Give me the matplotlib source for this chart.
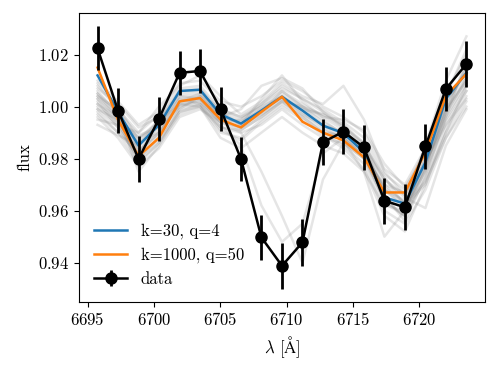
import numpy as np
import matplotlib
matplotlib.use("Agg")
import matplotlib.pyplot as plt

plt.rcParams["font.family"] = "serif"
plt.rcParams["font.serif"] = ["cmr10"]
plt.rcParams["mathtext.fontset"] = "cm"
plt.rcParams["axes.formatter.use_mathtext"] = True
plt.rcParams["font.size"] = 12

# wavelength grid of the observed spectrum
wave = [6695.75, 6697.29, 6698.84, 6700.38, 6701.93, 6703.47, 6705.02,
        6706.56, 6708.10, 6709.65, 6711.19, 6712.74, 6714.28, 6715.83,
        6717.37, 6718.91, 6720.46, 6722.00, 6723.55]

# observed flux and errors
flux = [1.0224, 0.9985, 0.9799, 0.9953, 1.0130, 1.0137, 0.9991, 0.9799,
        0.9497, 0.9388, 0.9478, 0.9863, 0.9904, 0.9843, 0.9638, 0.9613,
        0.9847, 1.0068, 1.0164]
flux_err = [0.0085, 0.0085, 0.0088, 0.0085, 0.0085, 0.0085, 0.0085, 0.0085,
            0.0088, 0.0089, 0.0089, 0.0088, 0.0086, 0.0086, 0.0088, 0.0088,
            0.0087, 0.0086, 0.0087]

# best-fit models
model_k30 = [1.012, 0.998, 0.985, 0.993, 1.006, 1.0065, 0.997, 0.9935,
             0.9985, 1.0038, 0.9985, 0.9927, 0.9898, 0.9824, 0.9651, 0.9627,
             0.9786, 1.003, 1.013]
model_k1000 = [1.015, 0.995, 0.981, 0.988, 1.002, 1.0033, 0.995, 0.992,
               0.998, 1.0038, 0.9942, 0.990, 0.987, 0.9805, 0.967, 0.967,
               0.9824, 1.0042, 1.0126]

# posterior draws (grey)
draws = [
    [1.005, 0.995, 0.988, 0.992, 1.003, 1.004, 0.996, 0.994, 0.999, 1.004, 0.997, 0.993, 0.990, 0.983, 0.968, 0.962, 0.975, 0.995, 1.008],
    [1.000, 0.993, 0.982, 0.990, 1.000, 1.002, 0.994, 0.992, 0.998, 1.006, 1.000, 0.995, 0.989, 0.980, 0.963, 0.958, 0.972, 0.990, 1.004],
    [1.008, 0.999, 0.990, 0.997, 1.007, 1.008, 0.999, 0.996, 1.001, 1.008, 1.003, 0.998, 0.993, 0.986, 0.972, 0.966, 0.980, 1.000, 1.015],
    [0.997, 0.990, 0.978, 0.986, 0.997, 1.000, 0.990, 0.988, 0.995, 1.001, 0.996, 0.990, 0.985, 0.978, 0.960, 0.955, 0.968, 0.988, 1.002],
    [1.010, 1.002, 0.993, 0.998, 1.009, 1.010, 1.002, 1.000, 1.004, 1.010, 1.006, 1.000, 0.996, 0.990, 0.976, 0.970, 0.984, 1.005, 1.020],
    [1.003, 0.996, 0.984, 0.991, 1.002, 1.003, 0.993, 0.985, 0.962, 0.948, 0.955, 0.982, 0.988, 0.981, 0.966, 0.960, 0.977, 0.998, 1.010],
    [0.999, 0.992, 0.980, 0.988, 0.999, 1.001, 0.992, 0.990, 0.975, 0.958, 0.940, 0.972, 0.986, 0.980, 0.964, 0.958, 0.974, 0.994, 1.006],
    [1.001, 0.994, 0.983, 0.990, 1.001, 1.002, 0.995, 0.992, 0.997, 1.003, 0.998, 0.992, 0.987, 0.975, 0.950, 0.960, 0.980, 1.002, 1.012],
    [1.004, 0.997, 0.986, 0.993, 1.004, 1.005, 0.997, 0.993, 0.998, 1.005, 1.000, 0.994, 0.990, 0.984, 0.972, 0.965, 0.961, 0.985, 0.999],
    [1.009, 1.000, 0.987, 0.995, 1.006, 1.007, 0.998, 0.995, 1.000, 1.006, 1.001, 0.996, 0.991, 0.983, 0.968, 0.964, 0.985, 1.010, 1.027],
    [0.995, 0.993, 0.990, 1.000, 1.008, 1.012, 1.004, 0.997, 1.002, 1.009, 1.004, 1.001, 1.008, 0.995, 0.975, 0.966, 0.978, 0.996, 1.009],
    [1.006, 0.997, 0.975, 0.985, 0.998, 1.001, 0.991, 0.987, 0.994, 1.000, 0.995, 0.989, 0.984, 0.976, 0.958, 0.952, 0.970, 0.992, 1.006],
    [0.993, 0.989, 0.985, 0.995, 1.004, 1.003, 0.996, 0.999, 1.008, 1.011, 1.007, 0.998, 0.992, 0.986, 0.970, 0.963, 0.978, 0.997, 1.011],
    [1.002, 0.992, 0.980, 0.987, 0.998, 1.000, 0.988, 0.984, 0.990, 0.996, 0.990, 0.985, 0.982, 0.975, 0.962, 0.960, 0.976, 0.998, 1.016],
    [1.007, 1.001, 0.992, 0.996, 1.005, 1.006, 0.996, 0.993, 1.003, 1.012, 1.002, 0.996, 0.995, 0.991, 0.978, 0.969, 0.981, 0.999, 1.011],
    [0.998, 0.990, 0.982, 0.993, 1.003, 1.001, 0.994, 0.990, 0.993, 0.999, 0.993, 0.988, 0.986, 0.980, 0.970, 0.967, 0.979, 0.993, 1.003],
    [1.004, 0.999, 0.983, 0.989, 1.002, 1.005, 0.999, 0.996, 1.000, 1.004, 0.999, 0.997, 0.993, 0.985, 0.966, 0.956, 0.973, 0.996, 1.018],
    [1.001, 0.996, 0.988, 0.994, 1.001, 1.000, 0.992, 0.991, 0.996, 1.002, 0.997, 0.991, 0.988, 0.982, 0.969, 0.963, 0.971, 0.988, 1.000],
    [0.996, 0.988, 0.977, 0.984, 0.996, 0.999, 0.994, 0.995, 1.001, 1.007, 1.003, 0.999, 0.994, 0.988, 0.974, 0.968, 0.983, 1.004, 1.022],
    [1.005, 0.998, 0.989, 0.992, 1.000, 1.003, 0.997, 0.994, 0.999, 1.003, 0.999, 0.993, 0.988, 0.981, 0.964, 0.958, 0.976, 1.001, 1.014],
    [0.999, 0.995, 0.986, 0.990, 1.001, 1.004, 0.995, 0.991, 0.996, 1.002, 0.996, 0.990, 0.989, 0.985, 0.973, 0.962, 0.970, 0.990, 1.008],
    [1.003, 0.994, 0.979, 0.986, 0.999, 1.004, 0.998, 0.993, 0.997, 1.002, 1.000, 0.997, 0.992, 0.984, 0.968, 0.961, 0.977, 0.999, 1.010],
]

fig = plt.figure(figsize=(4.98, 3.70), dpi=100)
ax = fig.add_axes([0.1586, 0.1846, 0.8153, 0.7803])

for d in draws:
    ax.plot(wave, d, color="grey", alpha=0.2, lw=1.8)

ax.plot(wave, model_k30, color="#1f77b4", lw=1.8, label="k=30, q=4")
ax.plot(wave, model_k1000, color="#ff7f0e", lw=1.8, label="k=1000, q=50")
ax.errorbar(wave, flux, yerr=flux_err, fmt="o-", color="k", lw=1.8,
            elinewidth=2.0, ms=8, label="data")

ax.set_xlim(6694.35, 6724.95)
ax.set_ylim(0.925, 1.036)
ax.set_xticks([6695, 6700, 6705, 6710, 6715, 6720])
ax.set_yticks([0.94, 0.96, 0.98, 1.00, 1.02])
ax.set_xlabel(r"$\lambda$ [$\mathrm{\AA}$]")
ax.set_ylabel("flux")
ax.legend(loc="lower left", frameon=False)

fig.savefig("out.png", dpi=100)
